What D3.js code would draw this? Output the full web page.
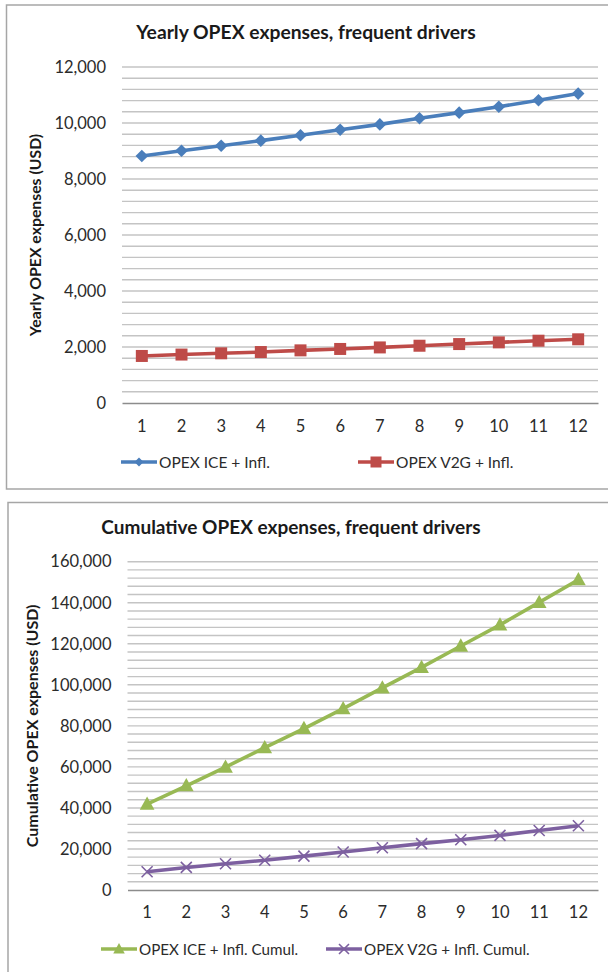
<!DOCTYPE html>
<html>
<head>
<meta charset="utf-8">
<script src="https://cdn.jsdelivr.net/npm/d3@7"></script>
<style>
  html, body { margin: 0; padding: 0; background: #fff; }
  svg { display: block; }
  text { font-family: Lato, "Open Sans", sans-serif; }
</style>
</head>
<body>
<svg id="chart" width="608" height="972"></svg>
<script>
// Years 1..12
const years = ["1", "2", "3", "4", "5", "6", "7", "8", "9", "10", "11", "12"];

// Yearly OPEX (USD)
const opexIce = [8820, 9010, 9190, 9370, 9560, 9760, 9950, 10170, 10370, 10580, 10810, 11050];
const opexV2g = [1680, 1730, 1775, 1820, 1880, 1930, 1985, 2045, 2105, 2165, 2225, 2275];

// Cumulative OPEX (USD)
const cumIce = [41800, 50800, 59900, 69400, 78700, 88400, 98500, 108500, 118900, 129200, 140200, 151200];
const cumV2g = [8900, 11000, 12800, 14500, 16500, 18500, 20600, 22600, 24500, 26600, 29000, 31300];

// Axis tick values
const yearlyTicks = [0, 2000, 4000, 6000, 8000, 10000, 12000];
const cumulTicks = [0, 20000, 40000, 60000, 80000, 100000, 120000, 140000, 160000];

const svg = d3.select("#chart");
const fmt = d3.format(",");

function markerPath(shape, size) {
  const s = size;
  switch (shape) {
    case "diamond": return `M0,${-s}L${s},0L0,${s}L${-s},0Z`;
    case "square": return `M${-s},${-s}H${s}V${s}H${-s}Z`;
    case "triangle": return `M0,${-s * 1.1}L${s * 1.05},${s * 0.8}L${-s * 1.05},${s * 0.8}Z`;
    case "x": return `M${-s},${-s}L${s},${s}M${s},${-s}L${-s},${s}`;
  }
}

function drawChart(cfg) {
  const g = svg.append("g");

  // outer frame
  g.append("rect")
    .attr("x", cfg.frame.x).attr("y", cfg.frame.y)
    .attr("width", cfg.frame.w).attr("height", cfg.frame.h)
    .attr("fill", "none").attr("stroke", "#a6a6a6").attr("stroke-width", 1.5);

  // title
  g.append("text")
    .attr("x", cfg.titleX).attr("y", cfg.titleY)
    .attr("text-anchor", "middle")
    .attr("font-size", cfg.titleSize).attr("font-weight", "bold")
    .attr("fill", "#1a1a1a")
    .text(cfg.title);

  const x = d3.scaleBand().domain(years).range([cfg.left, cfg.right]);
  const y = d3.scaleLinear().domain([0, cfg.max]).range([cfg.bottom, cfg.top]);

  // horizontal gridlines
  const grid = d3.range(cfg.minor, cfg.max + 1, cfg.minor);
  g.append("g").selectAll("line").data(grid).join("line")
    .attr("x1", cfg.left).attr("x2", cfg.right)
    .attr("y1", d => y(d)).attr("y2", d => y(d))
    .attr("stroke", "#c4c4c4").attr("stroke-width", 1.4);

  // y axis labels
  const yAxis = d3.axisLeft(y).tickValues(cfg.ticks).tickFormat(fmt).tickSize(0).tickPadding(cfg.tickPad);
  const ya = g.append("g").attr("transform", `translate(${cfg.left},0)`).call(yAxis);
  ya.select(".domain").remove();
  ya.selectAll("text").attr("font-size", cfg.tickSize).attr("fill", "#2b2b2b")
    .style("font-family", "Lato, sans-serif");

  // x axis baseline and labels
  const xAxis = d3.axisBottom(x).tickSize(0).tickPadding(cfg.xPad);
  const xa = g.append("g").attr("transform", `translate(0,${cfg.bottom})`).call(xAxis);
  xa.select(".domain").attr("stroke", "#8c8c8c").attr("stroke-width", 1.6);
  xa.selectAll("text").attr("font-size", cfg.tickSize).attr("fill", "#2b2b2b")
    .style("font-family", "Lato, sans-serif");

  // y axis title
  g.append("text")
    .attr("transform", `translate(${cfg.yTitleX},${(cfg.top + cfg.bottom) / 2}) rotate(-90)`)
    .attr("text-anchor", "middle").attr("dominant-baseline", "middle")
    .attr("font-size", cfg.yTitleSize).attr("font-weight", "bold").attr("fill", "#1a1a1a")
    .text(cfg.yTitle);

  const cx = d => x(d) + x.bandwidth() / 2;
  const line = d3.line().x(d => cx(d.year)).y(d => y(d.v));

  cfg.series.forEach(s => {
    const pts = years.map((yr, i) => ({ year: yr, v: s.values[i] }));
    g.append("path").datum(pts)
      .attr("d", line).attr("fill", "none")
      .attr("stroke", s.color).attr("stroke-width", 3.6).attr("stroke-linejoin", "round");
    const m = g.append("g").selectAll("path").data(pts).join("path")
      .attr("transform", d => `translate(${cx(d.year)},${y(d.v)})`)
      .attr("d", markerPath(s.shape, s.msize));
    if (s.shape === "x") {
      m.attr("fill", "none").attr("stroke", s.color).attr("stroke-width", 1.6);
    } else {
      m.attr("fill", s.color);
    }

    // legend entry
    const lg = g.append("g").attr("transform", `translate(${s.legendX},${cfg.legendY})`);
    lg.append("line").attr("x1", 0).attr("x2", 36).attr("y1", 0).attr("y2", 0)
      .attr("stroke", s.color).attr("stroke-width", 3.6);
    const lm = lg.append("path").attr("transform", "translate(18,0)")
      .attr("d", markerPath(s.shape, s.lsize));
    if (s.shape === "x") {
      lm.attr("fill", "none").attr("stroke", s.color).attr("stroke-width", 1.6);
    } else {
      lm.attr("fill", s.color);
    }
    lg.append("text").attr("x", 38).attr("y", 0)
      .attr("dominant-baseline", "central")
      .attr("font-size", cfg.legendSize).attr("fill", "#2b2b2b")
      .text(s.name);
  });
}

drawChart({
  frame: { x: 6.5, y: 5, w: 640, h: 484 },
  title: "Yearly OPEX expenses, frequent drivers",
  titleX: 306, titleY: 39, titleSize: 19.3,
  left: 122, right: 598, top: 67, bottom: 403,
  max: 12000, minor: 400, ticks: yearlyTicks,
  tickSize: 16.5, tickPad: 16, xPad: 17,
  yTitle: "Yearly OPEX expenses (USD)", yTitleX: 37, yTitleSize: 15.8,
  legendY: 462, legendSize: 15.5,
  series: [
    { name: "OPEX ICE + Infl.", values: opexIce, color: "#4a7ebb", shape: "diamond", msize: 6.3, lsize: 4.5, legendX: 121 },
    { name: "OPEX V2G + Infl.", values: opexV2g, color: "#be4b48", shape: "square", msize: 6, lsize: 5.5, legendX: 358 }
  ]
});

drawChart({
  frame: { x: 8, y: 502.5, w: 640, h: 520 },
  title: "Cumulative OPEX expenses, frequent drivers",
  titleX: 291, titleY: 534, titleSize: 19,
  left: 127.5, right: 598, top: 561.7, bottom: 890,
  max: 160000, minor: 4000, ticks: cumulTicks,
  tickSize: 16.5, tickPad: 16, xPad: 16,
  yTitle: "Cumulative OPEX expenses (USD)", yTitleX: 34, yTitleSize: 16,
  legendY: 949, legendSize: 15.2,
  series: [
    { name: "OPEX ICE + Infl. Cumul.", values: cumIce, color: "#98b954", shape: "triangle", msize: 7, lsize: 5.5, legendX: 101 },
    { name: "OPEX V2G + Infl. Cumul.", values: cumV2g, color: "#7d60a0", shape: "x", msize: 5.5, lsize: 5, legendX: 326 }
  ]
});
</script>
</body>
</html>
